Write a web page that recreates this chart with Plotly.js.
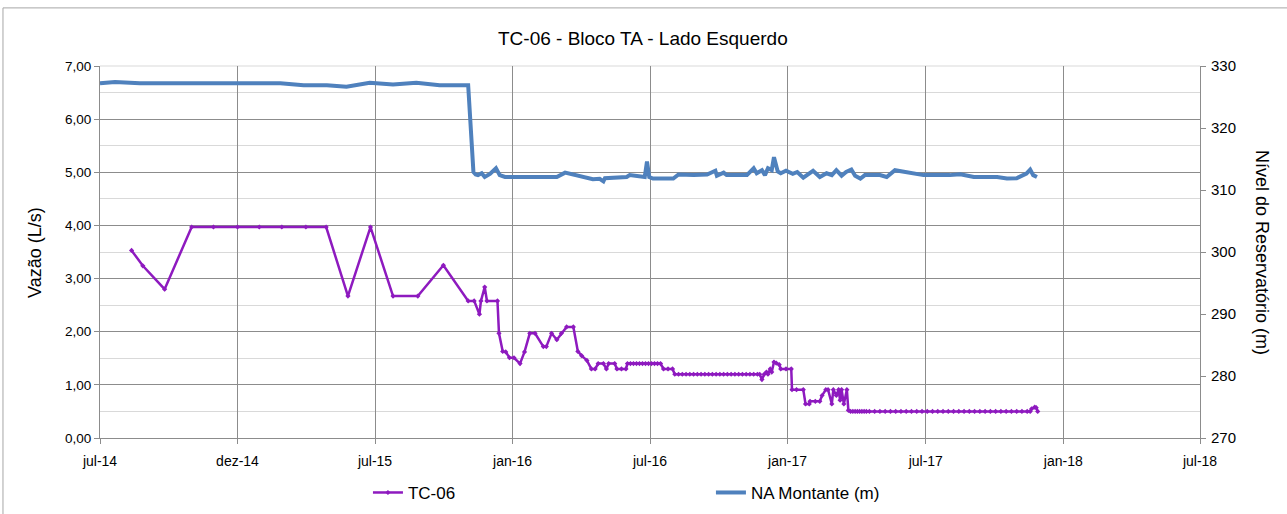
<!DOCTYPE html>
<html>
<head>
<meta charset="utf-8">
<script src="https://cdn.plot.ly/plotly-3.0.1.min.js"></script>
<style>
html,body{margin:0;padding:0;background:#fff;}
#chart{width:1287px;height:514px;}
</style>
</head>
<body>
<div id="chart"></div>
<script>
const chartTitle = 'TC-06 - Bloco TA - Lado Esquerdo';
const leftAxisTitle = 'Vazão (L/s)';
const rightAxisTitle = 'Nível do Reservatório (m)';

const xTickVals = ['2014-07-01','2014-12-31','2015-07-02','2016-01-01','2016-07-02','2017-01-01','2017-07-04','2018-01-03','2018-07-04'];
const xTickText = ['jul-14','dez-14','jul-15','jan-16','jul-16','jan-17','jul-17','jan-18','jul-18'];

const tc06Dates = [
 '2014-08-12','2014-08-27','2014-09-25','2014-10-31','2014-11-29','2014-12-31','2015-01-29','2015-02-28','2015-04-01','2015-04-28',
 '2015-05-27','2015-06-26','2015-07-26','2015-08-28','2015-10-01','2015-11-03','2015-11-11','2015-11-18','2015-11-20','2015-11-25',
 '2015-11-28','2015-12-12','2015-12-14','2015-12-19','2015-12-23','2015-12-28','2016-01-03','2016-01-11','2016-01-17','2016-01-24',
 '2016-01-31','2016-02-11','2016-02-15','2016-02-22','2016-02-29','2016-03-06','2016-03-13','2016-03-22','2016-03-28','2016-04-02',
 '2016-04-09','2016-04-15','2016-04-20','2016-04-24','2016-05-01','2016-05-05','2016-05-08','2016-05-16','2016-05-19','2016-05-25',
 '2016-05-31','2016-06-02','2016-06-06','2016-06-10','2016-06-14','2016-06-18','2016-06-22','2016-06-26','2016-06-30','2016-07-04',
 '2016-07-08','2016-07-12','2016-07-16','2016-07-20','2016-07-26','2016-08-01','2016-08-04','2016-08-09','2016-08-14','2016-08-19',
 '2016-08-24','2016-08-29','2016-09-03','2016-09-08','2016-09-13','2016-09-18','2016-09-23','2016-09-28','2016-10-03','2016-10-08',
 '2016-10-13','2016-10-18','2016-10-23','2016-10-28','2016-11-02','2016-11-07','2016-11-12','2016-11-17','2016-11-22','2016-11-25',
 '2016-11-28','2016-12-01','2016-12-04','2016-12-06','2016-12-09','2016-12-11','2016-12-14','2016-12-17','2016-12-21','2016-12-23',
 '2016-12-30','2017-01-06','2017-01-07','2017-01-13','2017-01-22','2017-01-25','2017-01-30','2017-01-31','2017-02-07','2017-02-13',
 '2017-02-16','2017-02-21','2017-02-24','2017-03-01','2017-03-03','2017-03-07','2017-03-10','2017-03-12','2017-03-14','2017-03-17',
 '2017-03-21','2017-03-23','2017-03-26','2017-03-29','2017-04-01','2017-04-04','2017-04-07','2017-04-10','2017-04-13','2017-04-16',
 '2017-04-20','2017-04-27','2017-05-04','2017-05-11','2017-05-18','2017-05-25','2017-06-01','2017-06-08','2017-06-15','2017-06-22',
 '2017-06-29','2017-07-06','2017-07-13','2017-07-20','2017-07-27','2017-08-03','2017-08-10','2017-08-17','2017-08-24','2017-08-31',
 '2017-09-07','2017-09-14','2017-09-21','2017-09-28','2017-10-05','2017-10-12','2017-10-19','2017-10-26','2017-11-02','2017-11-09',
 '2017-11-16','2017-11-20','2017-11-22','2017-11-26','2017-11-28','2017-11-30'
];
const tc06Values = [
 3.53,3.24,2.80,3.97,3.97,3.97,3.97,3.97,3.97,3.97,
 2.67,3.97,2.67,2.67,3.25,2.58,2.58,2.33,2.58,2.84,
 2.58,2.58,1.97,1.63,1.62,1.51,1.51,1.40,1.62,1.97,
 1.97,1.72,1.72,1.97,1.85,1.97,2.09,2.09,1.63,1.55,
 1.46,1.30,1.30,1.40,1.40,1.30,1.40,1.40,1.30,1.30,
 1.30,1.40,1.40,1.40,1.40,1.40,1.40,1.40,1.40,1.40,
 1.40,1.40,1.40,1.30,1.30,1.30,1.20,1.20,1.20,1.20,
 1.20,1.20,1.20,1.20,1.20,1.20,1.20,1.20,1.20,1.20,
 1.20,1.20,1.20,1.20,1.20,1.20,1.20,1.20,1.20,1.20,
 1.10,1.20,1.24,1.20,1.30,1.24,1.43,1.41,1.38,1.30,
 1.30,1.30,0.91,0.91,0.91,0.64,0.64,0.69,0.69,0.69,
 0.80,0.91,0.91,0.64,0.91,0.80,0.91,0.71,0.91,0.64,
 0.91,0.52,0.50,0.50,0.50,0.50,0.50,0.50,0.50,0.50,
 0.50,0.50,0.50,0.50,0.50,0.50,0.50,0.50,0.50,0.50,
 0.50,0.50,0.50,0.50,0.50,0.50,0.50,0.50,0.50,0.50,
 0.50,0.50,0.50,0.50,0.50,0.50,0.50,0.50,0.50,0.50,
 0.50,0.50,0.55,0.58,0.57,0.50
];

const naDates = [
 '2014-07-01','2014-07-21','2014-08-23','2014-11-11','2015-02-26','2015-03-29','2015-04-29','2015-05-25','2015-06-25','2015-07-26',
 '2015-08-26','2015-09-26','2015-11-03','2015-11-10','2015-11-13','2015-11-16','2015-11-21','2015-11-25','2015-12-02','2015-12-10',
 '2015-12-15','2015-12-22','2016-02-29','2016-03-11','2016-03-22','2016-04-17','2016-04-26','2016-05-01','2016-05-03','2016-06-01',
 '2016-06-05','2016-06-25','2016-06-28','2016-07-01','2016-07-06','2016-08-02','2016-08-09','2016-08-29','2016-09-16','2016-09-27',
 '2016-09-29','2016-10-08','2016-10-12','2016-11-08','2016-11-17','2016-11-21','2016-11-28','2016-12-02','2016-12-06','2016-12-11',
 '2016-12-14','2016-12-19','2016-12-23','2016-12-30','2017-01-08','2017-01-14','2017-01-22','2017-01-28','2017-02-04','2017-02-13',
 '2017-02-22','2017-03-01','2017-03-07','2017-03-14','2017-03-20','2017-03-27','2017-04-01','2017-04-08','2017-04-14','2017-05-04',
 '2017-05-13','2017-05-24','2017-06-06','2017-07-01','2017-08-05','2017-08-19','2017-09-06','2017-10-07','2017-10-20','2017-11-02',
 '2017-11-15','2017-11-20','2017-11-24','2017-11-29'
];
const naValues = [
 327.2,327.4,327.2,327.2,327.2,326.9,326.9,326.65,327.3,327.0,
 327.3,326.9,326.9,312.9,312.5,312.4,312.7,312.1,312.6,313.5,
 312.4,312.1,312.1,312.8,312.5,311.75,311.8,311.4,311.9,312.1,
 312.4,312.1,314.6,312.1,311.85,311.85,312.5,312.4,312.5,313.1,
 312.3,312.8,312.4,312.4,313.5,312.7,313.2,312.4,313.5,313.2,
 315.3,313.0,312.7,313.1,312.6,312.9,312.0,312.5,313.1,312.1,
 312.7,312.4,313.2,312.3,312.9,313.3,312.3,311.85,312.4,312.4,
 312.1,313.2,312.9,312.4,312.4,312.55,312.1,312.1,311.85,311.9,
 312.65,313.3,312.4,312.1
];

const FONT = 'Liberation Sans, Arial, sans-serif';
const gridDark = '#8c8c8c';
const gridLight = '#d9d9d9';

const traces = [
 {
  x: tc06Dates, y: tc06Values, name: 'TC-06', type: 'scatter', mode: 'lines+markers',
  line: {color: '#8E1ABF', width: 2.5},
  marker: {color: '#8E1ABF', size: 4, symbol: 'diamond'},
  yaxis: 'y', legend: 'legend'
 },
 {
  x: naDates, y: naValues, name: 'NA Montante (m)', type: 'scatter', mode: 'lines',
  line: {color: '#4F81BD', width: 4},
  yaxis: 'y2', legend: 'legend2'
 }
];

const layout = {
 width: 1287, height: 514,
 margin: {l: 100, r: 87, t: 66, b: 76, pad: 0, autoexpand: false},
 paper_bgcolor: '#ffffff', plot_bgcolor: '#ffffff',
 separators: ',.',
 font: {family: FONT, size: 14, color: '#000000'},
 title: {text: chartTitle, font: {family: FONT, size: 19, color: '#000'}, x: 0.4995, xanchor: 'center', y: 0.926, yanchor: 'middle'},
 showlegend: true,
 xaxis: {
  type: 'date', range: ['2014-07-01', '2018-07-04'],
  tickmode: 'array', tickvals: xTickVals, ticktext: xTickText,
  showgrid: true, gridcolor: gridDark, gridwidth: 1,
  showline: true, linecolor: gridDark, linewidth: 1,
  ticks: 'outside', ticklen: 5, tickcolor: gridDark,
  tickfont: {family: FONT, size: 14, color: '#000'},
  ticklabelstandoff: 5,
  zeroline: false, fixedrange: true
 },
 yaxis: {
  range: [0, 7], dtick: 1, tick0: 0, tickformat: '.2f',
  showgrid: true, gridcolor: gridDark, gridwidth: 1,
  minor: {dtick: 0.5, tick0: 0, showgrid: true, gridcolor: gridLight, gridwidth: 1},
  showline: true, linecolor: gridDark, linewidth: 1,
  ticks: 'outside', ticklen: 5, tickcolor: gridDark,
  tickfont: {family: FONT, size: 13.5, color: '#000'},
  zeroline: false, fixedrange: true
 },
 yaxis2: {
  range: [270, 330], dtick: 10, tick0: 270,
  overlaying: 'y', side: 'right', anchor: 'x',
  showgrid: false, showline: true, linecolor: gridDark, linewidth: 1,
  ticks: 'outside', ticklen: 5, tickcolor: gridDark,
  tickfont: {family: FONT, size: 15, color: '#000'},
  ticklabelstandoff: 2,
  zeroline: false, fixedrange: true
 },
 legend: {orientation: 'h', xref: 'container', yref: 'container', x: 0.2859, xanchor: 'left', y: 0.041, yanchor: 'middle',
  font: {family: FONT, size: 17, color: '#000'}, bgcolor: 'rgba(0,0,0,0)'},
 legend2: {orientation: 'h', xref: 'container', yref: 'container', x: 0.5524, xanchor: 'left', y: 0.041, yanchor: 'middle',
  font: {family: FONT, size: 17, color: '#000'}, bgcolor: 'rgba(0,0,0,0)'},
 annotations: [
  {text: leftAxisTitle, xref: 'paper', yref: 'paper', x: -0.0591, y: 0.5, xanchor: 'center', yanchor: 'middle',
   textangle: -90, showarrow: false, font: {family: FONT, size: 18, color: '#000'}},
  {text: rightAxisTitle, xref: 'paper', yref: 'paper', x: 1.0564, y: 0.5, xanchor: 'center', yanchor: 'middle',
   textangle: 90, showarrow: false, font: {family: FONT, size: 18, color: '#000'}}
 ],
 shapes: [
  {type: 'rect', xref: 'paper', yref: 'paper', x0: -0.0882, x1: 1.2, y0: -0.3, y1: 1.1562,
   line: {color: '#a6a6a6', width: 1}, fillcolor: 'rgba(0,0,0,0)', layer: 'below'},
  {type: 'line', xref: 'paper', yref: 'paper', x0: 0, x1: 1, y0: 1, y1: 1,
   line: {color: gridLight, width: 1}, layer: 'below'}
 ]
};

Plotly.newPlot('chart', traces, layout, {displayModeBar: false, staticPlot: true});
</script>
</body>
</html>
